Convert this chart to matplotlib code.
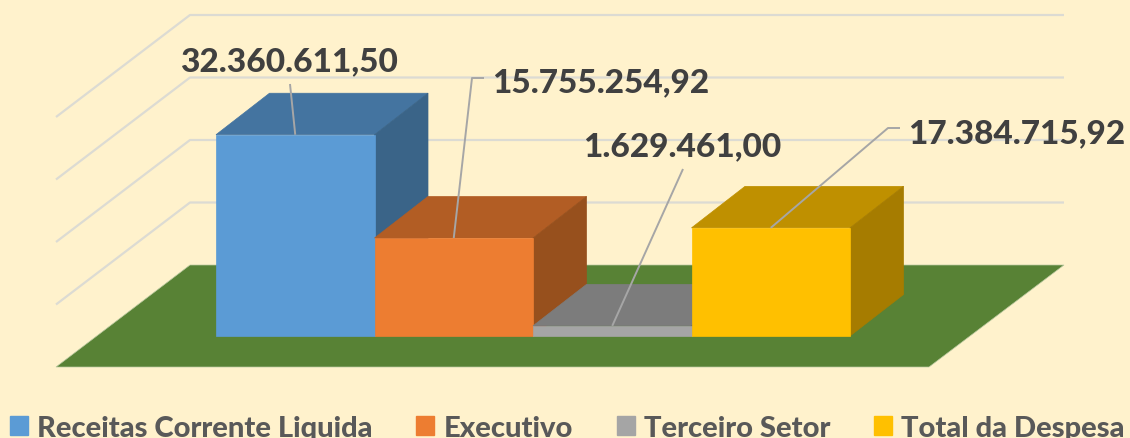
import matplotlib

matplotlib.use("Agg")
import matplotlib.pyplot as plt
from matplotlib.patches import Patch
from matplotlib.patches import Polygon
from matplotlib.transforms import Affine2D

categories = ["Receitas Corrente Liquida", "Executivo", "Terceiro Setor", "Total da Despesa"]
values = [32360611.50, 15755254.92, 1629461.00, 17384715.92]
value_labels = ["32.360.611,50", "15.755.254,92", "1.629.461,00", "17.384.715,92"]
grid_values = [10e6, 20e6, 30e6, 40e6]

front_colors = ["#5B9BD5", "#ED7D31", "#A5A5A5", "#FFC000"]
top_colors = ["#4474A0", "#B25D24", "#7C7C7C", "#BF9000"]
side_colors = ["#3A6488", "#97501D", "#6B6B6B", "#A67C00"]

WIDTH = 1130
HEIGHT = 439
BG = "#FFF2CC"
FLOOR = "#588235"
GRID = "#DCDBD3"
LEADER = "#A6A6A6"

# pixel layout of the fake 3D box
BAR_LEFT = 216
BAR_BASE = 337
BAR_W = 158.5
PX_PER_VALUE = 6.22e-6
WALL_PX_PER_VALUE = 6.25e-6
DEPTH_X = 53.5 / BAR_W
DEPTH_Y = 41.5 / PX_PER_VALUE

fig = plt.figure(figsize=(WIDTH / 100, HEIGHT / 100), dpi=100, facecolor=BG)
ax = fig.add_axes([0, 0, 1, 1])
ax.set_xlim(-BAR_LEFT / BAR_W, (WIDTH - BAR_LEFT) / BAR_W)
ax.set_ylim(-(HEIGHT - BAR_BASE) / PX_PER_VALUE, BAR_BASE / PX_PER_VALUE)
ax.axis("off")

pixels = Affine2D().scale(1, -1).translate(0, HEIGHT)


def wall_y(value):
    return 71 / PX_PER_VALUE + value * WALL_PX_PER_VALUE / PX_PER_VALUE


# floor and walls, walls run back along the left side
floor_back_l = -26 / BAR_W
floor_back_r = 848 / BAR_W
floor_front_l = -160 / BAR_W
floor_front_r = 713 / BAR_W
floor_front_y = -31 / PX_PER_VALUE
for value in grid_values:
    ax.plot(
        [floor_front_l, floor_back_l, floor_back_r],
        [wall_y(value) - 102 / PX_PER_VALUE, wall_y(value), wall_y(value)],
        color=GRID,
        lw=1.6,
        zorder=1,
        solid_capstyle="butt",
    )

ax.add_patch(
    Polygon(
        [
            (floor_front_l, floor_front_y),
            (floor_front_r, floor_front_y),
            (floor_back_r, wall_y(0)),
            (floor_back_l, wall_y(0)),
        ],
        facecolor=FLOOR,
        edgecolor="#B9C9A0",
        lw=0.5,
        zorder=2,
    )
)

for i, value in enumerate(values):
    z = 3 + i
    ax.add_patch(
        Polygon(
            [(i, value), (i + 1, value), (i + 1 + DEPTH_X, value + DEPTH_Y), (i + DEPTH_X, value + DEPTH_Y)],
            facecolor=top_colors[i],
            edgecolor=top_colors[i],
            lw=0.5,
            zorder=z,
        )
    )
    ax.add_patch(
        Polygon(
            [(i + 1, 0), (i + 1 + DEPTH_X, DEPTH_Y), (i + 1 + DEPTH_X, value + DEPTH_Y), (i + 1, value)],
            facecolor=side_colors[i],
            edgecolor=side_colors[i],
            lw=0.5,
            zorder=z,
        )
    )
    ax.add_patch(
        Polygon(
            [(i, 0), (i + 1, 0), (i + 1, value), (i, value)],
            facecolor=front_colors[i],
            edgecolor=front_colors[i],
            lw=0.5,
            zorder=z,
        )
    )

# leader lines leave the middle of each bar's front top edge, points are in image pixels
leader_paths = [[(290, 85)], [(472, 79), (484, 79)], [(683, 170)], [(888, 129), (900, 129)]]
label_pos = [(180, 71), (492, 92), (583, 156), (908, 143)]

for i, value in enumerate(values):
    start = pixels.inverted().transform(ax.transData.transform((i + 0.5, value)))
    points = [tuple(start)] + leader_paths[i]
    ax.plot(
        [p[0] for p in points],
        [p[1] for p in points],
        color=LEADER,
        lw=1.4,
        transform=pixels,
        zorder=10,
        solid_capstyle="butt",
    )
    ax.text(
        label_pos[i][0],
        label_pos[i][1],
        value_labels[i],
        transform=pixels,
        family="Lato",
        fontsize=24,
        fontweight="black",
        color="#404040",
        va="baseline",
        ha="left",
        zorder=11,
    )

handles = [Patch(facecolor=c, edgecolor=c, label=name) for c, name in zip(front_colors, categories)]
fig.legend(
    handles=handles,
    ncols=4,
    loc="lower left",
    bbox_to_anchor=(10 / WIDTH, -3 / HEIGHT),
    frameon=False,
    borderpad=0,
    borderaxespad=0,
    columnspacing=1.5,
    handlelength=0.62,
    handleheight=0.62,
    handletextpad=0.31,
    prop={"family": "Lato", "weight": "black", "size": 21},
    labelcolor="#595959",
)

fig.savefig("out.png", dpi=100, facecolor=BG)
